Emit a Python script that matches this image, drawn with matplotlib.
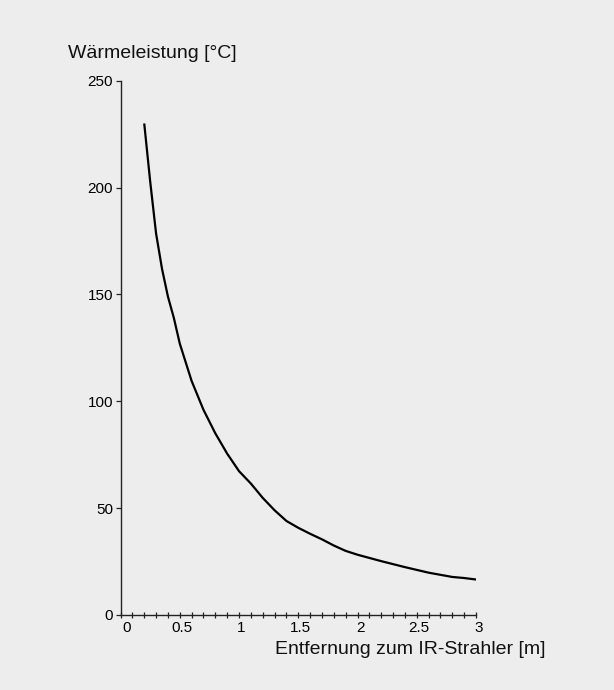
import matplotlib
matplotlib.use('Agg')
import matplotlib.pyplot as plt
import matplotlib.transforms as mtransforms
from matplotlib.ticker import MultipleLocator

# Distance to the IR heater [m] and heat output [°C]
distance = [0.2, 0.25, 0.3, 0.35, 0.4, 0.45, 0.5, 0.6, 0.7, 0.8, 0.9, 1.0,
            1.1, 1.2, 1.3, 1.4, 1.5, 1.6, 1.7, 1.8, 1.9, 2.0, 2.2, 2.4,
            2.6, 2.8, 2.9, 3.0]
heat = [230, 203, 178.5, 162, 149, 139, 127, 109.5, 96, 85, 75.5, 67.3,
        61.5, 54.8, 49, 44, 40.8, 38, 35.4, 32.5, 30, 28.2, 25.2, 22.4,
        19.8, 17.8, 17.3, 16.6]

x_ticks = [0, 0.5, 1, 1.5, 2, 2.5, 3]
x_tick_labels = ['0', '0.5', '1', '1.5', '2', '2.5', '3']
y_ticks = [0, 50, 100, 150, 200, 250]

bg = '#ededed'
plt.rcParams['font.family'] = ['Liberation Sans', 'DejaVu Sans']

fig = plt.figure(figsize=(6.14, 6.9), dpi=100, facecolor=bg)
ax = fig.add_axes([0.1963, 0.1087, 0.5790, 0.7743])
ax.set_facecolor(bg)

ax.plot(distance, heat, color='black', linewidth=1.6, solid_capstyle='butt')

ax.set_xlim(0, 3)
ax.set_ylim(0, 250)

for side in ['top', 'right']:
    ax.spines[side].set_visible(False)
for side in ['left', 'bottom']:
    ax.spines[side].set_color('#222222')
    ax.spines[side].set_linewidth(1.0)

ax.set_xticks(x_ticks)
ax.set_xticklabels(x_tick_labels)
ax.xaxis.set_minor_locator(MultipleLocator(0.1))
ax.tick_params(axis='x', which='both', direction='inout', length=4.5,
               width=0.9, color='#222222', labelsize=11, pad=2.0)
ax.set_yticks(y_ticks)
ax.tick_params(axis='y', which='major', direction='out', length=3.8,
               width=0.9, color='#222222', labelsize=11, pad=1.5)

# labels sit a little right of their ticks in the original
for lbl in ax.get_xticklabels():
    dx = 6 if lbl.get_text() == '0' else 2.5
    lbl.set_transform(lbl.get_transform() +
                      mtransforms.ScaledTranslation(dx / 100, 0, fig.dpi_scale_trans))

fig.text(68.3 / 614, 1 - 57.7 / 690, 'Wärmeleistung [°C]', fontsize=14,
         ha='left', va='baseline', color='#111111')
fig.text(545.7 / 614, 1 - 654 / 690, 'Entfernung zum IR-Strahler [m]',
         fontsize=14, ha='right', va='baseline', color='#111111')

fig.savefig('out.png', dpi=100, facecolor=bg)
plt.close(fig)
